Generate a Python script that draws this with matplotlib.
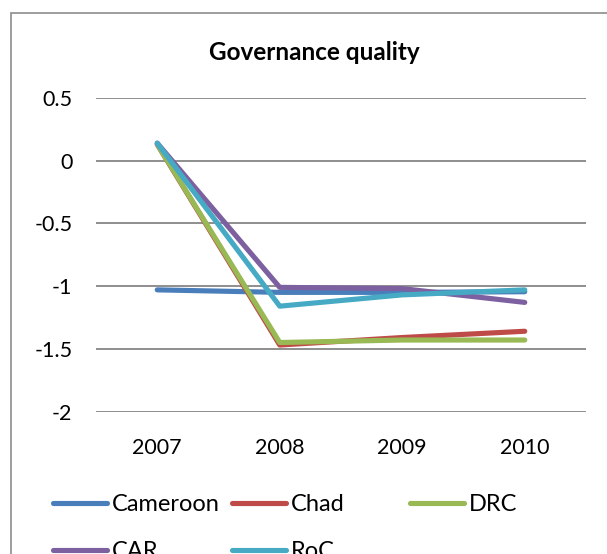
import matplotlib

matplotlib.use("Agg")

import matplotlib.pyplot as plt
from matplotlib.lines import Line2D
from matplotlib.patches import Rectangle

plt.rcParams["font.family"] = ["Lato", "DejaVu Sans"]

years = ["2007", "2008", "2009", "2010"]
cameroon = [-1.03, -1.05, -1.05, -1.045]
chad = [0.13, -1.47, -1.41, -1.36]
drc = [0.13, -1.45, -1.43, -1.43]
car = [0.14, -1.01, -1.02, -1.13]
roc = [0.14, -1.16, -1.07, -1.03]

series = [
    ("Cameroon", cameroon, "#4A7EBB"),
    ("Chad", chad, "#BE4B48"),
    ("DRC", drc, "#98B954"),
    ("CAR", car, "#7D60A0"),
    ("RoC", roc, "#46AAC5"),
]

fig = plt.figure(figsize=(6.07, 5.54), dpi=100)
# chart-area border (right and bottom edges fall outside the image)
fig.patches.append(Rectangle((11 / 607, -0.1), 1.1, 1 - 13 / 554 + 0.1,
                             transform=fig.transFigure, fill=False,
                             edgecolor="#8C8C8C", lw=1.2))

ax = fig.add_axes([96 / 607, 1 - 411.5 / 554, 490 / 607, 313.5 / 554])
x = range(len(years))
for label, vals, color in series:
    ax.plot(x, vals, color=color, lw=3.7, solid_capstyle="round",
            solid_joinstyle="round", label=label)

ax.set_xlim(-0.5, len(years) - 0.5)
ax.set_ylim(-2, 0.5)
ax.set_yticks([0.5, 0, -0.5, -1, -1.5, -2])
ax.set_yticklabels(["0.5", "0", "-0.5", "-1", "-1.5", "-2"])
ax.set_xticks(list(x))
ax.set_xticklabels(years)
ax.tick_params(axis="both", length=0, labelsize=15.5)
ax.tick_params(axis="y", pad=17)
ax.tick_params(axis="x", pad=19)
ax.grid(True, axis="y", color="#868686", lw=1.3)
ax.set_axisbelow(True)
for s in ax.spines.values():
    s.set_visible(False)

fig.text(314 / 607, 1 - 52 / 554, "Governance quality", ha="center",
         va="center", fontsize=17.5, fontweight="bold")

# Excel-style legend: three columns with uneven spacing
handles = {lab: Line2D([], [], color=c, lw=3.7, solid_capstyle="round")
           for lab, _, c in series}
columns = [(53, ["Cameroon", "CAR"]), (232, ["Chad", "RoC"]), (410, ["DRC"])]
for xpos, labs in columns:
    leg = fig.legend([handles[k] for k in labs], labs, loc="upper left",
                     bbox_to_anchor=(xpos / 607, 1 - 494 / 554),
                     frameon=False, fontsize=17, handlelength=2.3,
                     handletextpad=0.2, labelspacing=1.1, borderpad=0,
                     borderaxespad=0)

fig.savefig("out.png", dpi=100, facecolor="white")
